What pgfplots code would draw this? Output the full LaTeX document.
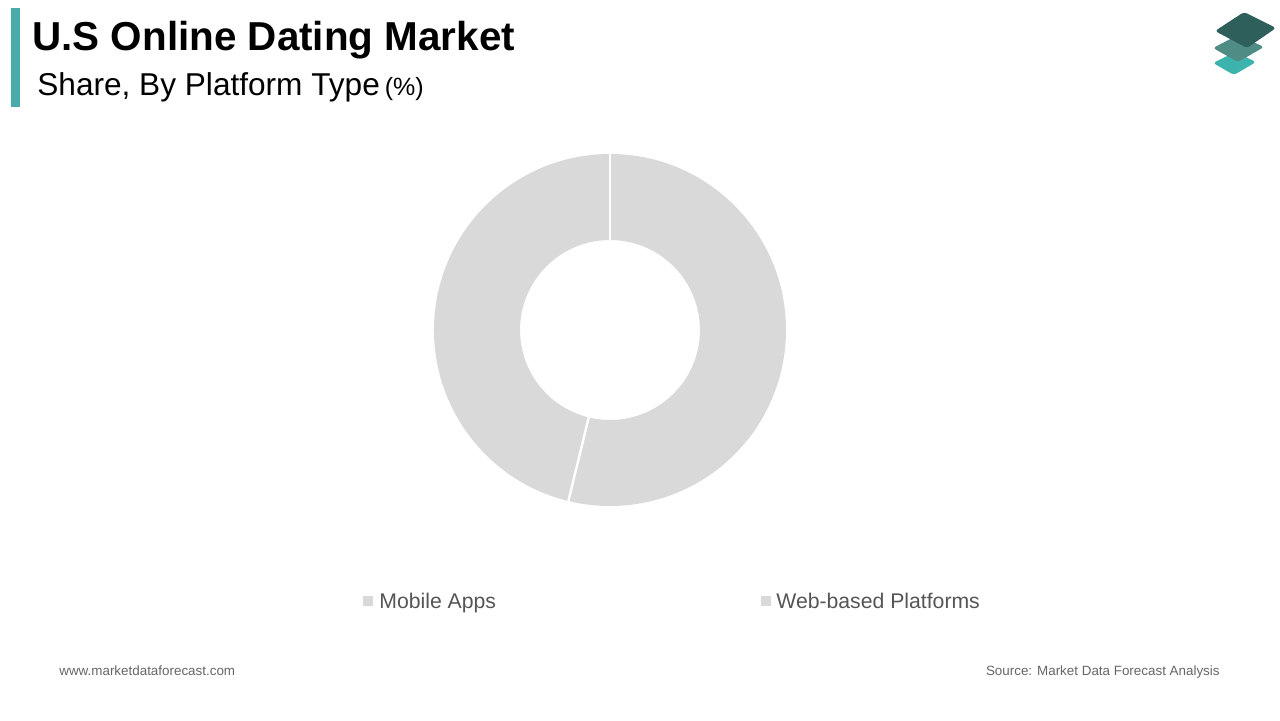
\documentclass[border=0pt]{standalone}
\usepackage{pgfplots}
\usepackage{pgfplotstable}
\pgfplotsset{compat=1.18}
\usetikzlibrary{calc}
\usepackage{fontspec}
\setmainfont{Liberation Sans}
\definecolor{slice}{HTML}{D9D9D9}
\definecolor{teal1}{HTML}{4AABAB}
\definecolor{logoA}{HTML}{2F5F5B}
\definecolor{logoB}{HTML}{4F8C86}
\definecolor{logoC}{HTML}{3DB3AE}
\definecolor{legtext}{HTML}{555555}
\definecolor{foot}{HTML}{666666}
\pgfplotstableread{
label value
Mobile 53.8
Web 46.2
}\shares
\begin{document}
\begin{tikzpicture}[x=0.5pt,y=0.5pt]
\fill[white] (0,0) rectangle (1280,720);
% title block
\fill[teal1] (11,720-8) rectangle (20,720-107);
\node[anchor=base west,inner sep=0,font=\bfseries\fontsize{20.2}{24}\selectfont] at (32,720-50) {U.S Online Dating Market};
\node[anchor=base west,inner sep=0,font=\fontsize{15.8}{18}\selectfont] at (37,720-95) {Share, By Platform Type\hspace{2.5pt}{\fontsize{12.5}{14}\selectfont(\%)}};
% logo
\fill[logoC,rounded corners=1.5pt] (1213,720-63) -- (1235,720-52) -- (1256,720-62) -- (1234,720-75) -- cycle;
\fill[logoB,rounded corners=1.5pt] (1213,720-48) -- (1238,720-35) -- (1264,720-47) -- (1238,720-62) -- cycle;
\fill[logoA,rounded corners=1.5pt] (1215,720-31) -- (1244,720-12) -- (1276,720-28) -- (1247,720-48) -- cycle;
% donut
\begin{axis}[
  at={(305pt,195pt)}, anchor=center,
  scale only axis, width=176pt, height=176pt,
  xmin=-1, xmax=1, ymin=-1, ymax=1,
  hide axis, clip=false]
  \pgfplotstablegetelem{0}{value}\of\shares \let\va\pgfplotsretval
  \pgfplotstablegetelem{1}{value}\of\shares \let\vb\pgfplotsretval
  \pgfmathsetmacro\frac{\va/(\va+\vb)}
  \pgfmathsetmacro\angA{90-360*\frac}
  \pgfmathsetmacro\angB{\angA+360}
  \fill[slice] ($(axis cs:0,0)+(90:88pt)$) arc[start angle=90, end angle=\angA, radius=88pt]
     -- ($(axis cs:0,0)+(\angA:45pt)$) arc[start angle=\angA, end angle=90, radius=45pt] -- cycle;
  \fill[slice] ($(axis cs:0,0)+(\angA:88pt)$) arc[start angle=\angA, end angle=-270, radius=88pt]
     -- ($(axis cs:0,0)+(90:45pt)$) arc[start angle=90, end angle=\angB, radius=45pt] -- cycle;
  \draw[white,line width=1.2pt] ($(axis cs:0,0)+(90:44pt)$) -- ($(axis cs:0,0)+(90:89pt)$);
  \draw[white,line width=1.2pt] ($(axis cs:0,0)+(\angA:44pt)$) -- ($(axis cs:0,0)+(\angA:89pt)$);
\end{axis}
% legend
\fill[slice] (363,720-596) rectangle (373,720-606);
\node[anchor=base west,inner sep=0,text=legtext,font=\fontsize{10.6}{12}\selectfont] at (379,720-608) {Mobile Apps};
\fill[slice] (761,720-596) rectangle (771,720-606);
\node[anchor=base west,inner sep=0,text=legtext,font=\fontsize{10.6}{12}\selectfont] at (776,720-608) {Web-based Platforms};
% footer
\node[anchor=base west,inner sep=0,text=foot,font=\fontsize{6.7}{8}\selectfont] at (59,720-675) {www.marketdataforecast.com};
\node[anchor=base east,inner sep=0,text=foot,font=\fontsize{6.7}{8}\selectfont] at (1220,720-675) {Source: Market Data Forecast Analysis};
\end{tikzpicture}
\end{document}
